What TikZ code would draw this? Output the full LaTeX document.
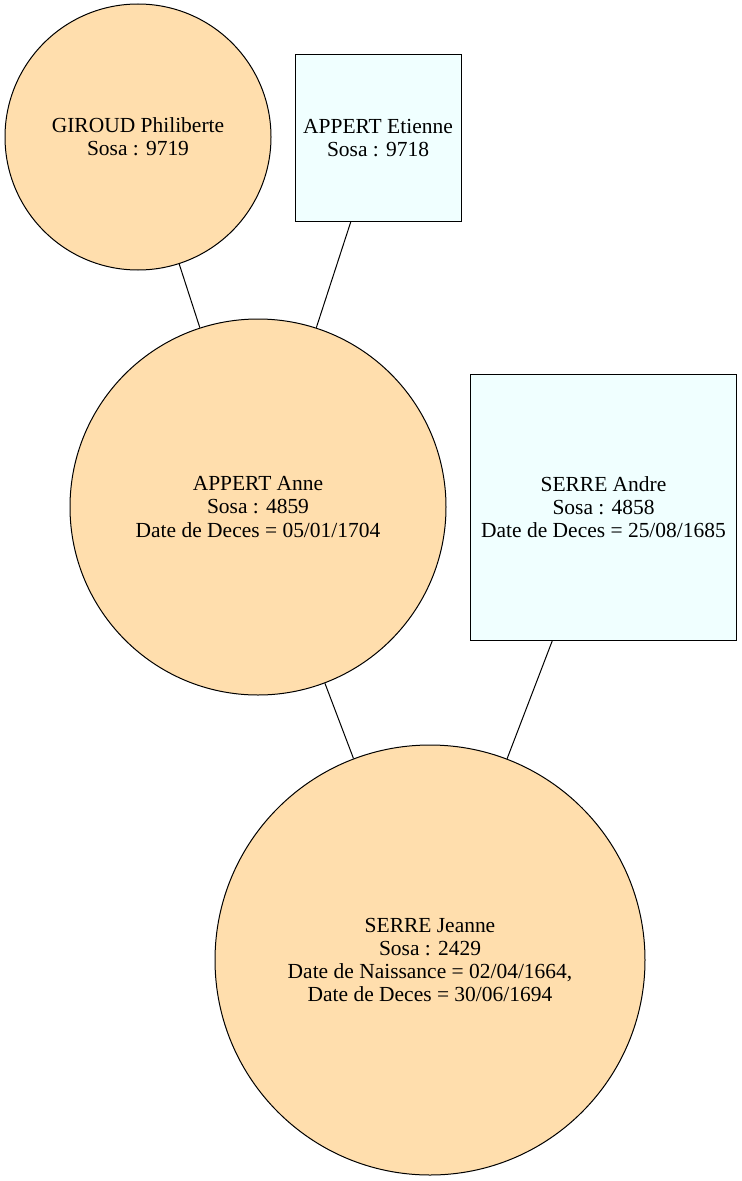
\documentclass[tikz,border=0pt]{standalone}
\usepackage{fontspec}
\setmainfont{Liberation Serif}
\definecolor{personF}{HTML}{FFDEAD}
\definecolor{personM}{HTML}{F0FFFF}
\begin{document}
\begin{tikzpicture}[x=0.75pt,y=-0.75pt,
  every node/.style={font=\fontsize{16.1}{17.3}\selectfont, align=center, inner sep=0pt, draw=black, line width=0.75pt},
  female/.style={circle, fill=personF, minimum size=#1},
  male/.style={rectangle, fill=personM, minimum size=#1},
  link/.style={draw=black, line width=0.75pt}]
\useasboundingbox (0,0) rectangle (742,1181);
% ancestors
\node[female=199.5pt] (giroud) at (138,137) {GIROUD Philiberte\\Sosa : 9719};
\node[male=124.5pt] (etienne) at (378,138) {APPERT Etienne\\Sosa : 9718};
% parents
\node[female=282pt] (anne) at (258,507) {APPERT Anne\\Sosa : 4859\\Date de Deces = 05/01/1704};
\node[male=199.5pt] (andre) at (603.5,507) {SERRE Andre\\Sosa : 4858\\Date de Deces = 25/08/1685};
% root
\node[female=322.5pt] (jeanne) at (430,960) {SERRE Jeanne\\Sosa : 2429\\Date de Naissance = 02/04/1664,\\Date de Deces = 30/06/1694};
% links
\draw[link] (giroud) -- (anne);
\draw[link] (etienne) -- (anne);
\draw[link] (anne) -- (jeanne);
\draw[link] (andre) -- (jeanne);
\end{tikzpicture}
\end{document}
